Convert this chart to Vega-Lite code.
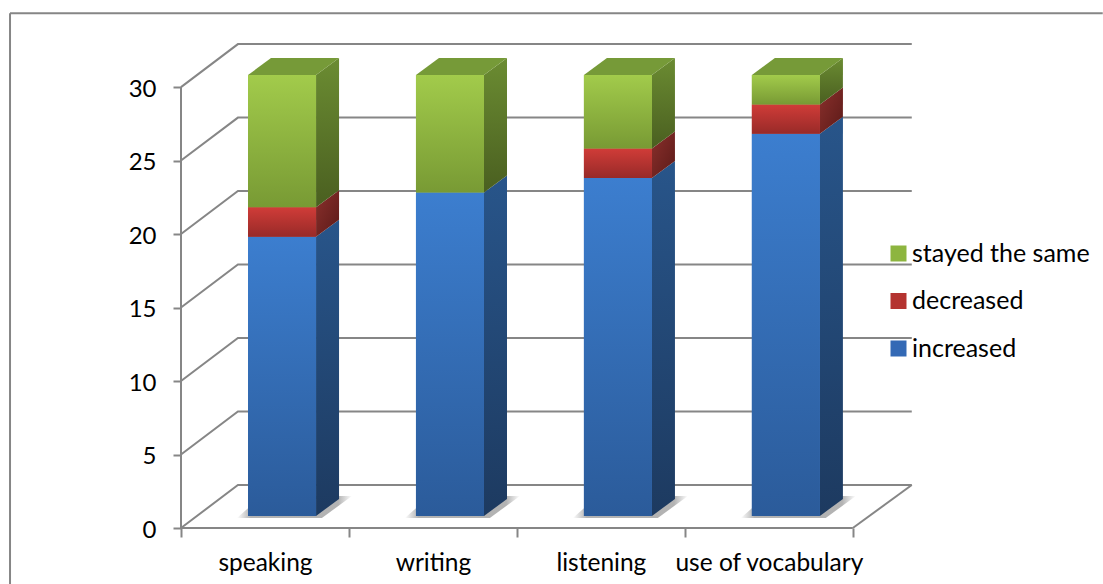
{"$schema":"https://vega.github.io/schema/vega-lite/v6.json","width":739,"height":485,"autosize":{"type":"none"},"padding":{"left":181,"top":43,"right":183,"bottom":56},"background":"white","config":{"view":{"stroke":null},"font":"Lato","axis":{"labelFont":"Lato"},"legend":{"labelFont":"Lato"}},"datasets":{"rows":[{"skill":"speaking","status":"increased","value":19},{"skill":"speaking","status":"decreased","value":2},{"skill":"speaking","status":"stayed the same","value":9},{"skill":"writing","status":"increased","value":22},{"skill":"writing","status":"decreased","value":0},{"skill":"writing","status":"stayed the same","value":8},{"skill":"listening","status":"increased","value":23},{"skill":"listening","status":"decreased","value":2},{"skill":"listening","status":"stayed the same","value":5},{"skill":"use of vocabulary","status":"increased","value":26},{"skill":"use of vocabulary","status":"decreased","value":2},{"skill":"use of vocabulary","status":"stayed the same","value":2}],"ticks":[{"tick":0},{"tick":5},{"tick":10},{"tick":15},{"tick":20},{"tick":25},{"tick":30}],"skills":[{"skill":"speaking"},{"skill":"writing"},{"skill":"listening"},{"skill":"use of vocabulary"}],"one":[{"n":1}]},"layer":[{"data":{"name":"ticks"},"transform":[{"calculate":"[0,0.339,4.351]","as":"xs"},{"calculate":"[datum.tick,datum.tick+2.925,datum.tick+2.925]","as":"ys"},{"flatten":["xs","ys"]}],"mark":{"type":"line","color":"#868686","strokeWidth":2,"clip":false},"encoding":{"x":{"field":"xs","type":"quantitative","scale":{"domain":[0,4.4],"nice":false,"zero":false},"axis":{"title":null,"domain":false,"values":[0,0.5,1,1.5,2,2.5,3,3.5,4],"tickColor":"#868686","tickWidth":2,"tickSize":9,"tickOpacity":{"condition":{"test":"datum.value%1!==0","value":0},"value":1},"grid":false,"labelExpr":"datum.value==0.5?'speaking':datum.value==1.5?'writing':datum.value==2.5?'listening':datum.value==3.5?'use of vocabulary':''","labelFontSize":24.5,"labelColor":"#000000","labelPadding":14,"labelAngle":0,"labelOverlap":false,"labelBound":false,"labelFlush":false,"labelLimit":400}},"y":{"field":"ys","type":"quantitative","scale":{"domain":[0,33],"nice":false,"zero":false},"axis":{"title":null,"domain":false,"values":[0,5,10,15,20,25,30],"tickColor":"#868686","tickWidth":2,"tickSize":8,"grid":false,"labelFontSize":24,"labelColor":"#000000","labelPadding":17,"labelOffset":2,"labelOverlap":false,"labelBound":false,"labelFlush":false}},"detail":{"field":"tick"}}},{"data":{"name":"one"},"mark":{"type":"rule","color":"#868686","strokeWidth":2},"encoding":{"x":{"datum":4},"x2":{"datum":4.351},"y":{"datum":0},"y2":{"datum":2.925}}},{"data":{"name":"one"},"mark":{"type":"rule","color":"#868686","strokeWidth":2},"encoding":{"x":{"datum":0},"x2":{"datum":4},"y":{"datum":0}}},{"data":{"name":"one"},"mark":{"type":"rule","color":"#868686","strokeWidth":2},"encoding":{"x":{"datum":0},"y":{"datum":0},"y2":{"datum":30}}},{"data":{"name":"one"},"mark":{"type":"rule","color":"#868686","strokeWidth":2},"encoding":{"x":{"datum":-1.018},"x2":{"datum":5.488},"y":{"datum":35.03}}},{"data":{"name":"one"},"mark":{"type":"rule","color":"#868686","strokeWidth":2},"encoding":{"x":{"datum":-1.018},"y":{"datum":-3.81},"y2":{"datum":35.03}}},{"data":{"name":"skills"},"transform":[{"calculate":"indexof(['speaking','writing','listening','use of vocabulary'],datum.skill)","as":"i"},{"calculate":"[datum.i+0.333,datum.i+0.482,datum.i+0.839,datum.i+1.018]","as":"xs"},{"calculate":"[0.68,0.68,0.68,2.18]","as":"y0s"},{"calculate":"[0.68,2.18,2.18,2.18]","as":"y1s"},{"flatten":["xs","y0s","y1s"]}],"mark":{"type":"area","opacity":0.6,"color":{"gradient":"linear","x1":0,"y1":0,"x2":1,"y2":0,"stops":[{"offset":0,"color":"#ffffff"},{"offset":0.12,"color":"#808080"},{"offset":0.88,"color":"#808080"},{"offset":1,"color":"#ffffff"}]}},"encoding":{"x":{"field":"xs","type":"quantitative"},"y":{"field":"y0s","type":"quantitative"},"y2":{"field":"y1s"},"detail":{"field":"skill"}}},{"data":{"name":"rows"},"transform":[{"calculate":"indexof(['increased','decreased','stayed the same'],datum.status)","as":"rank"},{"stack":"value","groupby":["skill"],"sort":[{"field":"rank","order":"ascending"}],"as":["v0","v1"]},{"filter":"datum.value>0"},{"calculate":"indexof(['speaking','writing','listening','use of vocabulary'],datum.skill)","as":"i"},{"calculate":"[0,1]","as":"s"},{"flatten":["s"]},{"calculate":"datum.i+0.804+datum.s*0.137","as":"sx"},{"calculate":"datum.v0+0.82+datum.s*1.158","as":"sy0"},{"calculate":"datum.v1+0.82+datum.s*1.158","as":"sy1"}],"mark":{"type":"area"},"encoding":{"x":{"field":"sx","type":"quantitative"},"y":{"field":"sy0","type":"quantitative"},"y2":{"field":"sy1"},"detail":[{"field":"skill"},{"field":"status"}],"fill":{"condition":[{"test":"datum.status=='stayed the same'","value":{"gradient":"linear","x1":0,"y1":0,"x2":0,"y2":1,"stops":[{"offset":0,"color":"#6b8c32"},{"offset":1,"color":"#4a5f20"}]}},{"test":"datum.status=='decreased'","value":{"gradient":"linear","x1":0,"y1":0,"x2":1,"y2":1,"stops":[{"offset":0,"color":"#8a302c"},{"offset":1,"color":"#5c1a18"}]}}],"value":{"gradient":"linear","x1":0,"y1":0,"x2":0,"y2":1,"stops":[{"offset":0,"color":"#28558a"},{"offset":1,"color":"#1d3a60"}]}}}},{"data":{"name":"rows"},"transform":[{"calculate":"indexof(['increased','decreased','stayed the same'],datum.status)","as":"rank"},{"stack":"value","groupby":["skill"],"sort":[{"field":"rank","order":"ascending"}],"as":["v0","v1"]},{"filter":"datum.value>0"},{"calculate":"indexof(['speaking','writing','listening','use of vocabulary'],datum.skill)","as":"i"},{"calculate":"datum.i+0.399","as":"fx0"},{"calculate":"datum.i+0.804","as":"fx1"},{"calculate":"datum.v0+0.82","as":"fy0"},{"calculate":"datum.v1+0.82","as":"fy1"}],"mark":{"type":"rect"},"encoding":{"x":{"field":"fx0","type":"quantitative"},"x2":{"field":"fx1"},"y":{"field":"fy0","type":"quantitative"},"y2":{"field":"fy1"},"color":{"field":"status","type":"nominal","title":null,"scale":{"domain":["stayed the same","decreased","increased"],"range":["#8db53f","#b43330","#3369b5"]},"legend":{"orient":"none","legendX":705,"legendY":198,"symbolType":"square","symbolSize":256,"symbolStrokeWidth":0,"labelFontSize":25,"labelColor":"#000000","labelOffset":1,"rowPadding":21.5,"labelLimit":300}}}},{"data":{"name":"rows"},"transform":[{"calculate":"indexof(['increased','decreased','stayed the same'],datum.status)","as":"rank"},{"stack":"value","groupby":["skill"],"sort":[{"field":"rank","order":"ascending"}],"as":["v0","v1"]},{"filter":"datum.value>0"},{"calculate":"indexof(['speaking','writing','listening','use of vocabulary'],datum.skill)","as":"i"},{"calculate":"datum.i+0.399","as":"fx0"},{"calculate":"datum.i+0.804","as":"fx1"},{"calculate":"datum.v0+0.82","as":"fy0"},{"calculate":"datum.v1+0.82","as":"fy1"}],"mark":{"type":"rect"},"encoding":{"x":{"field":"fx0","type":"quantitative"},"x2":{"field":"fx1"},"y":{"field":"fy0","type":"quantitative"},"y2":{"field":"fy1"},"fill":{"condition":[{"test":"datum.status=='stayed the same'","value":{"gradient":"linear","x1":0,"y1":0,"x2":0,"y2":1,"stops":[{"offset":0,"color":"#a2cb4b"},{"offset":1,"color":"#789a34"}]}},{"test":"datum.status=='decreased'","value":{"gradient":"linear","x1":0,"y1":0,"x2":0,"y2":1,"stops":[{"offset":0,"color":"#d03c38"},{"offset":1,"color":"#982a28"}]}}],"value":{"gradient":"linear","x1":0,"y1":0,"x2":0,"y2":1,"stops":[{"offset":0,"color":"#3c7ecf"},{"offset":1,"color":"#2b5b9a"}]}}}},{"data":{"name":"rows"},"transform":[{"filter":"datum.status=='stayed the same'"},{"calculate":"indexof(['speaking','writing','listening','use of vocabulary'],datum.skill)","as":"i"},{"calculate":"[datum.i+0.399,datum.i+0.536,datum.i+0.804,datum.i+0.941]","as":"xs"},{"calculate":"[30.82,30.82,30.82,31.978]","as":"y0s"},{"calculate":"[30.82,31.978,31.978,31.978]","as":"y1s"},{"flatten":["xs","y0s","y1s"]}],"mark":{"type":"area","color":"#769a38"},"encoding":{"x":{"field":"xs","type":"quantitative"},"y":{"field":"y0s","type":"quantitative"},"y2":{"field":"y1s"},"detail":{"field":"skill"}}}]}
